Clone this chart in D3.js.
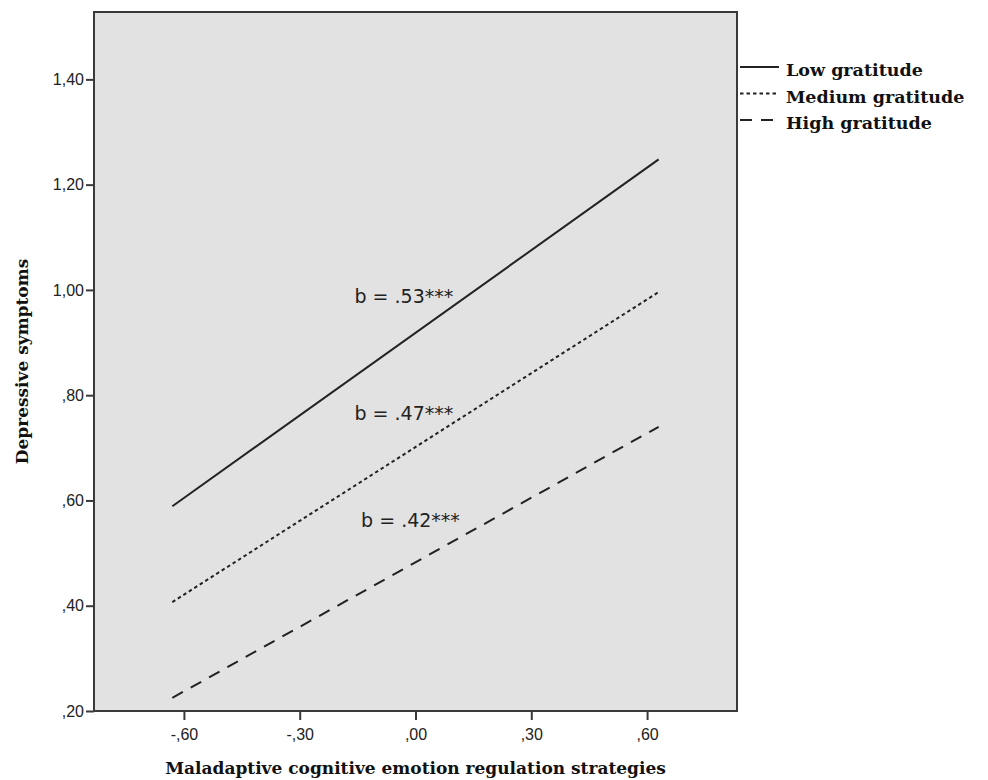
<!doctype html>
<html lang="en">
  <head>
    <meta charset="UTF-8" />
    <title>Depressive symptoms by maladaptive strategies and gratitude</title>
    <script src="https://d3js.org/d3.v7.min.js"></script>
    <style>
      body { margin: 0; background: #fff; }
      .title { font-family: 'DejaVu Serif', serif; font-weight: bold; font-size: 17px; fill: #111; }
      .legend text { font-family: 'DejaVu Serif', serif; font-weight: bold; font-size: 17.5px; fill: #111; }
      .slope { font-family: 'DejaVu Sans', sans-serif; font-size: 19px; fill: #222; }
    </style>
  </head>
  <body>
    <svg width="988" height="780"></svg>
    <script>
      // values
      const groups = ['Low gratitude', 'Medium gratitude', 'High gratitude'];
      const xEnds = [-0.63, 0.63];
      const lowY = [0.589, 1.248];
      const mediumY = [0.407, 0.996];
      const highY = [0.225, 0.74];
      const slopeLabels = ['b = .53***', 'b = .47***', 'b = .42***'];
      const labelX = [-0.03, -0.03, -0.013];
      const labelY = [0.975, 0.753, 0.549];
      const xTicks = [-0.6, -0.3, 0, 0.3, 0.6];
      const yTicks = [0.2, 0.4, 0.6, 0.8, 1.0, 1.2, 1.4];

      const margin = { top: 12, right: 251, bottom: 69, left: 94 };
      const width = 988, height = 780;
      const svg = d3.select('svg');

      const x = d3.scaleLinear()
        .domain([-0.833, 0.833])
        .range([margin.left, width - margin.right]);
      const y = d3.scaleLinear()
        .domain([0.2, 1.528])
        .range([height - margin.bottom, margin.top]);

      const dash = d3.scaleOrdinal()
        .domain(groups)
        .range(['none', '3.5,3', '12,9']);

      // SPSS style: comma decimal, no leading zero, plain hyphen
      const locale = d3.formatLocale({ decimal: ',', thousands: '.', grouping: [3], currency: ['', ''], minus: '-' });
      const fmt = (d) => locale.format('.2f')(d).replace(/^(-?)0,/, '$1,');

      // plot background
      svg.append('rect')
        .attr('x', x.range()[0])
        .attr('y', y.range()[1])
        .attr('width', x.range()[1] - x.range()[0])
        .attr('height', y.range()[0] - y.range()[1])
        .attr('fill', '#e2e2e2')
        .attr('stroke', '#3a3a3a')
        .attr('stroke-width', 2);

      // axes
      const xAxis = svg.append('g')
        .attr('transform', `translate(0,${y.range()[0]})`)
        .call(d3.axisBottom(x).tickValues(xTicks).tickFormat(fmt).tickSize(9).tickPadding(9));
      const yAxis = svg.append('g')
        .attr('transform', `translate(${x.range()[0]},0)`)
        .call(d3.axisLeft(y).tickValues(yTicks).tickFormat(fmt).tickSize(8).tickPadding(2));
      [xAxis, yAxis].forEach((g) => {
        g.attr('font-family', "'Liberation Sans', Arial, sans-serif").attr('font-size', 16);
        g.select('.domain').remove();
        g.selectAll('.tick line').attr('stroke', '#3a3a3a').attr('stroke-width', 2);
        g.selectAll('.tick text').attr('fill', '#222');
      });

      // lines
      const series = [lowY, mediumY, highY];
      const line = d3.line().x((d) => x(d[0])).y((d) => y(d[1]));
      svg.selectAll('.fit')
        .data(groups)
        .enter()
        .append('path')
        .attr('class', 'fit')
        .attr('d', (g, i) => line(xEnds.map((v, j) => [v, series[i][j]])))
        .attr('fill', 'none')
        .attr('stroke', '#222')
        .attr('stroke-width', 2)
        .attr('stroke-dasharray', (g) => dash(g));

      // slope labels
      svg.selectAll('.slope')
        .data(slopeLabels)
        .enter()
        .append('text')
        .attr('class', 'slope')
        .attr('x', (d, i) => x(labelX[i]))
        .attr('y', (d, i) => y(labelY[i]))
        .attr('text-anchor', 'middle')
        .text((d) => d);

      // axis titles
      svg.append('text')
        .attr('class', 'title')
        .attr('x', (x.range()[0] + x.range()[1]) / 2)
        .attr('y', 774)
        .attr('text-anchor', 'middle')
        .text('Maladaptive cognitive emotion regulation strategies');
      svg.append('text')
        .attr('class', 'title')
        .attr('transform', `translate(28,${(y.range()[0] + y.range()[1]) / 2}) rotate(-90)`)
        .attr('text-anchor', 'middle')
        .text('Depressive symptoms');

      // legend
      const legend = svg.selectAll('.legend')
        .data(groups)
        .enter()
        .append('g')
        .attr('class', 'legend')
        .attr('transform', (d, i) => `translate(740,${67 + i * 26.5})`);
      legend.append('line')
        .attr('x1', 0).attr('x2', 39)
        .attr('stroke', '#222')
        .attr('stroke-width', 2)
        .attr('stroke-dasharray', (d) => dash(d));
      legend.append('text')
        .attr('x', 46)
        .attr('y', 3)
        .attr('dy', '.35em')
        .text((d) => d);
    </script>
  </body>
</html>
